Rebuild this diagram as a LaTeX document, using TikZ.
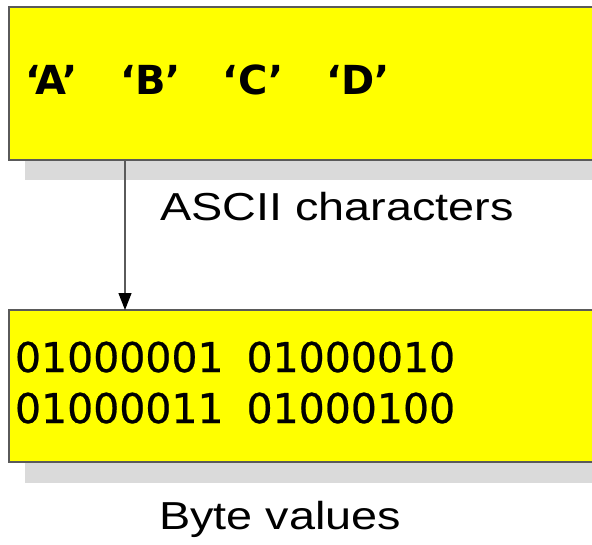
\documentclass[tikz,border=0pt]{standalone}
\usepackage{fontspec}
\newfontfamily\labfont[FakeStretch=1.2]{Liberation Sans}
\newfontfamily\digfont[FakeBold=0.6]{DejaVu Sans}
\newfontfamily\qfont{DejaVu Sans}
\definecolor{boxyellow}{RGB}{255,255,0}
\definecolor{shadowgray}{RGB}{218,218,218}
\definecolor{bordergray}{RGB}{90,90,90}
\usetikzlibrary{arrows.meta}
\tikzset{
  ybox/.style={fill=boxyellow, draw=bordergray, line width=1.5pt},
  txt/.style={anchor=base west, inner sep=0pt, outer sep=0pt},
  conn/.style={draw=bordergray, line width=1.3pt, -{Triangle[length=17pt,width=13pt,fill=black,color=black]}}
}
\begin{document}
\begin{tikzpicture}[x=1pt,y=-1pt]
\useasboundingbox (0,0) rectangle (592,544);
% shadows
\fill[shadowgray] (25,160) rectangle (600,180);
\fill[shadowgray] (25,462) rectangle (600,483);
% boxes
\path[ybox] (9,7) rectangle (600,160);
\path[ybox] (9,310) rectangle (600,462);
\coordinate (top) at (125,160);
\coordinate (bot) at (125,310);
\node[txt, font=\qfont\bfseries\fontsize{40}{40}\selectfont] (chars) at (25,94) {‘A’\hspace{42pt}‘B’\hspace{42pt}‘C’\hspace{42pt}‘D’};
\node[txt, align=left, font=\digfont\fontsize{41}{51}\selectfont] (bytes) at (15,423) {01000001\hspace{23pt}01000010\\01000011\hspace{23pt}01000100};
\draw[conn] (top) -- (bot);
\node[txt, font=\labfont\fontsize{39}{39}\selectfont] (ascii) at (160,220) {ASCII characters};
\node[txt, font=\labfont\fontsize{39}{39}\selectfont] (bv) at (159,529) {Byte values};
\end{tikzpicture}
\end{document}
